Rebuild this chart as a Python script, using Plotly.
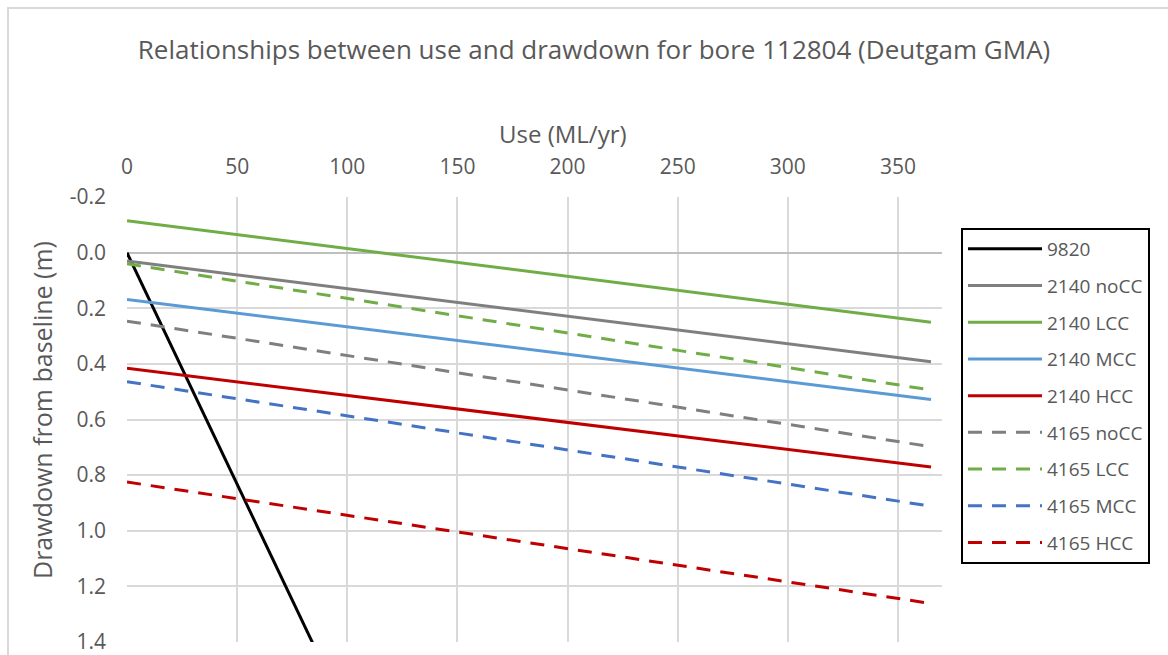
import plotly.graph_objects as go

# ---- data ----
use_x = [0, 365]

s_9820 = [0.0, 6.08]
s_2140_nocc = [0.03, 0.392]
s_2140_lcc = [-0.115, 0.25]
s_2140_mcc = [0.168, 0.528]
s_2140_hcc = [0.416, 0.771]
s_4165_nocc = [0.246, 0.698]
s_4165_lcc = [0.04, 0.494]
s_4165_mcc = [0.464, 0.912]
s_4165_hcc = [0.825, 1.262]

series_names = ["9820", "2140 noCC", "2140 LCC", "2140 MCC", "2140 HCC",
                "4165 noCC", "4165 LCC", "4165 MCC", "4165 HCC"]
series_values = [s_9820, s_2140_nocc, s_2140_lcc, s_2140_mcc, s_2140_hcc,
                 s_4165_nocc, s_4165_lcc, s_4165_mcc, s_4165_hcc]
series_colors = ["#000000", "#7F7F7F", "#70AD47", "#5B9BD5", "#C00000",
                 "#7F7F7F", "#70AD47", "#4472C4", "#C00000"]
series_dash = ["solid"] * 5 + ["14px,10px"] * 4

x_tickvals = [0, 50, 100, 150, 200, 250, 300, 350]
y_tickvals = [-0.2, 0.0, 0.2, 0.4, 0.6, 0.8, 1.0, 1.2, 1.4]
y_ticktext = ["-0.2", "0.0", "0.2", "0.4", "0.6", "0.8", "1.0", "1.2", "1.4"]

FONT = "Open Sans"
TXT = "#595959"

fig = go.Figure()
for i, (name, vals, col, dash) in enumerate(zip(series_names, series_values, series_colors, series_dash)):
    fig.add_trace(go.Scatter(
        x=use_x, y=vals, mode="lines", name=name,
        line=dict(color=col, width=3, dash=dash),
        legendgroup=f"g{i}",
    ))

W, H = 1168, 655
L, R, T, B = 127, 942, 197, 642

def px(xp):
    return (xp - L) / (R - L)

def py(yp):
    return (B - yp) / (B - T)

fig.update_layout(
    width=W, height=H,
    margin=dict(l=L, r=W - R, t=T, b=H - B, pad=0, autoexpand=False),
    paper_bgcolor="white", plot_bgcolor="white",
    font=dict(family=FONT, color=TXT, size=20),
    title=dict(text="Relationships between use and drawdown for bore 112804 (Deutgam GMA)",
               x=594 / W, y=1 - 50 / H, xanchor="center", yanchor="middle",
               font=dict(family=FONT, size=26, color=TXT)),
    xaxis=dict(range=[0, 370], side="top", tickvals=x_tickvals, automargin=False,
               showgrid=True, gridcolor="#D9D9D9", gridwidth=2,
               zeroline=False, showline=False, ticks="",
               tickfont=dict(size=21, color=TXT), ticklabelstandoff=18),
    yaxis=dict(range=[1.4005, -0.2005], tickvals=y_tickvals, ticktext=y_ticktext, automargin=False,
               showgrid=True, gridcolor="#D9D9D9", gridwidth=2,
               zeroline=True, zerolinecolor="#BFBFBF", zerolinewidth=2,
               showline=False, ticks="", ticklabeloverflow="allow",
               tickfont=dict(size=21, color=TXT), ticklabelstandoff=20),
    showlegend=True,
    legend=dict(x=px(961), y=py(228), xanchor="left", yanchor="top",
                bordercolor="#000000", borderwidth=2, bgcolor="white",
                font=dict(family=FONT, size=19, color=TXT),
                traceorder="grouped", tracegroupgap=9, itemwidth=74),
    annotations=[
        dict(text="Use (ML/yr)", x=px(563), y=py(133), xref="paper", yref="paper",
             showarrow=False, xanchor="center", yanchor="middle",
             font=dict(family=FONT, size=24, color=TXT)),
        dict(text="Drawdown from baseline (m)", x=px(42), y=py(410), xref="paper", yref="paper",
             showarrow=False, xanchor="center", yanchor="middle", textangle=-90,
             font=dict(family=FONT, size=25, color=TXT)),
    ],
    shapes=[
        dict(type="rect", xref="paper", yref="paper",
             x0=px(8), y0=py(700), x1=px(1200), y1=py(8),
             line=dict(color="#D9D9D9", width=2), fillcolor="rgba(0,0,0,0)", layer="below"),
    ],
)

fig.write_html("out.html")
